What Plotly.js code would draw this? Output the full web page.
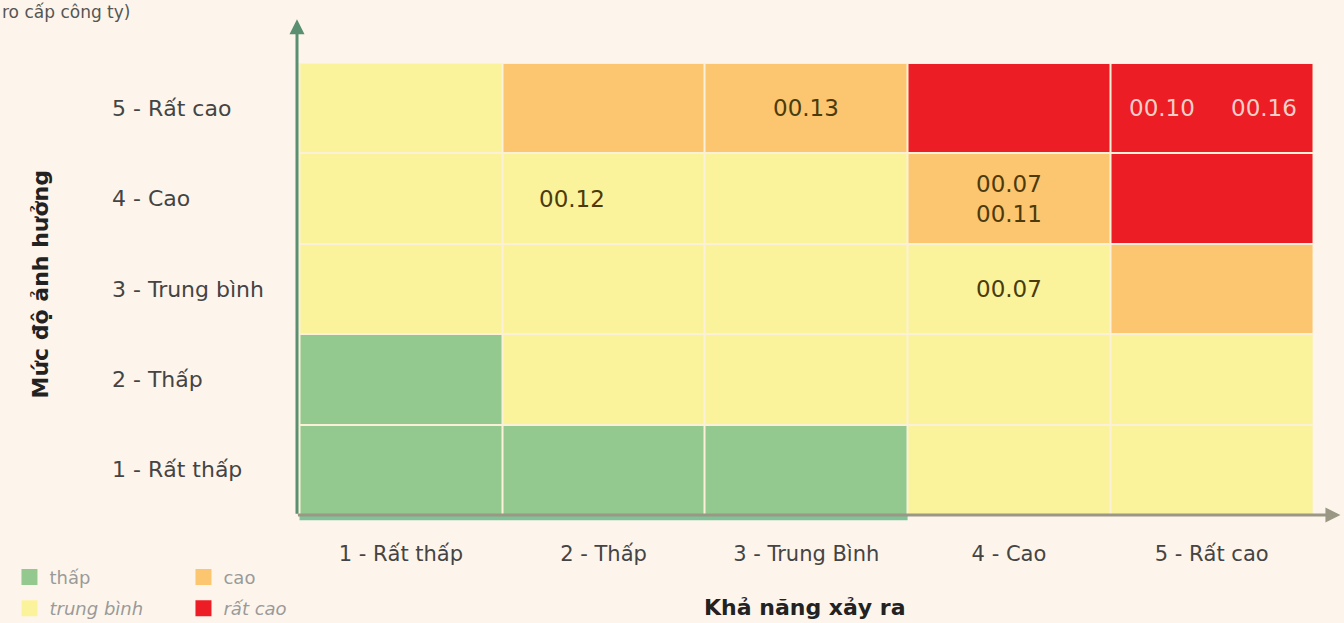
<!DOCTYPE html>
<html>
<head>
<meta charset="utf-8">
<script src="https://cdn.plot.ly/plotly-3.0.1.min.js"></script>
<style>html,body{margin:0;padding:0;background:#FDF5EB;}</style>
</head>
<body>
<div id="chart" style="width:1344px;height:623px;"></div>
<script>
// Likelihood (x) and impact (y) categories
const likelihood = ['1 - Rất thấp', '2 - Thấp', '3 - Trung Bình', '4 - Cao', '5 - Rất cao'];
const impact = ['1 - Rất thấp', '2 - Thấp', '3 - Trung bình', '4 - Cao', '5 - Rất cao'];
// Risk level per cell: 1 = thấp, 2 = trung bình, 3 = cao, 4 = rất cao (rows bottom -> top)
const riskLevel = [
  [1, 1, 1, 2, 2],
  [1, 2, 2, 2, 2],
  [2, 2, 2, 2, 3],
  [2, 2, 2, 3, 4],
  [2, 3, 3, 4, 4]
];
const levelNames = ['thấp', 'trung bình', 'cao', 'rất cao'];
const levelColors = ['#93C98F', '#FBF39C', '#FCC670', '#EC1D25'];
// Risk codes written in cells
const codeX = ['2 - Thấp', '3 - Trung Bình', '4 - Cao', '4 - Cao', '5 - Rất cao', '5 - Rất cao'];
const codeY = ['4 - Cao', '5 - Rất cao', '4 - Cao', '3 - Trung bình', '5 - Rất cao', '5 - Rất cao'];
const codeText = ['00.12', '00.13', '00.07<br>00.11', '00.07', '00.10', '00.16'];
const codeShift = [-32, 0, 0, 0, -50, 52];
const codeOnRed = [false, false, false, false, true, true];
const topNote = 'ro cấp công ty)';
const xTitle = 'Khả năng xảy ra';
const yTitle = 'Mức độ ảnh hưởng';

const FONT = 'DejaVu Sans, Verdana, sans-serif';

const n = levelColors.length;
const colorscale = [];
levelColors.forEach((c, i) => {
  colorscale.push([i / n, c]);
  colorscale.push([(i + 1) / n, c]);
});

const traces = [{
  type: 'heatmap',
  x: likelihood,
  y: impact,
  z: riskLevel,
  zmin: 0.5,
  zmax: 4.5,
  colorscale: colorscale,
  showscale: false,
  xgap: 2,
  ygap: 2,
  hoverinfo: 'skip'
}];

// legend entries: two legends so they form a 2x2 grid
const legendOrder = [[0, 2], [1, 3]];
legendOrder.forEach((row, r) => {
  row.forEach(i => {
    traces.push({
      type: 'scatter', mode: 'markers',
      x: [null], y: [null],
      name: levelNames[i],
      legend: r === 0 ? 'legend' : 'legend2',
      marker: {symbol: 'square', size: 16, color: levelColors[i]},
      showlegend: true
    });
  });
});

const annotations = [];
codeText.forEach((t, i) => {
  annotations.push({
    x: codeX[i], y: codeY[i], xref: 'x', yref: 'y',
    text: t, showarrow: false, xshift: codeShift[i],
    font: {family: FONT, size: 23, color: codeOnRed[i] ? '#F8CFC8' : '#4B3B0C'},
    align: 'center'
  });
});
// left-aligned impact labels
impact.forEach(lbl => {
  annotations.push({
    x: -0.184, xref: 'paper', xanchor: 'left',
    y: lbl, yref: 'y',
    text: lbl, showarrow: false,
    font: {family: FONT, size: 22, color: '#444444'}
  });
});
// axis arrows
annotations.push({
  x: 0, y: 1.097, xref: 'paper', yref: 'paper',
  ax: 0, ay: 496, showarrow: true,
  arrowhead: 2, arrowsize: 1, arrowwidth: 3, arrowcolor: '#5B8F72', text: ''
});
annotations.push({
  x: 1.027, y: 0, xref: 'paper', yref: 'paper',
  ax: -1044, ay: 0, showarrow: true,
  arrowhead: 2, arrowsize: 1, arrowwidth: 3, arrowcolor: '#9A9884', text: ''
});
// titles
annotations.push({
  x: 0.5, y: -0.205, xref: 'paper', yref: 'paper', xanchor: 'center', yanchor: 'middle',
  text: '<b>' + xTitle + '</b>', showarrow: false,
  font: {family: FONT, size: 22, color: '#222222'}
});
annotations.push({
  x: -0.252, y: 0.51, xref: 'paper', yref: 'paper', xanchor: 'center', yanchor: 'middle',
  text: '<b>' + yTitle + '</b>', showarrow: false, textangle: -90,
  font: {family: FONT, size: 22, color: '#222222'}
});
annotations.push({
  x: -0.292, y: 1.112, xref: 'paper', yref: 'paper', xanchor: 'left', yanchor: 'middle',
  text: topNote, showarrow: false,
  font: {family: FONT, size: 17, color: '#555555'}
});

const layout = {
  width: 1344, height: 623,
  margin: {l: 297, r: 31, t: 63, b: 108, autoexpand: false},
  paper_bgcolor: '#FDF5EB',
  plot_bgcolor: '#FBF1D8',
  font: {family: FONT, size: 17, color: '#444444'},
  xaxis: {
    type: 'category', automargin: false,
    showgrid: false, zeroline: false, showline: false,
    ticks: '', ticklabelstandoff: 24,
    tickfont: {family: FONT, size: 21, color: '#444444'},
    fixedrange: true
  },
  yaxis: {
    type: 'category', automargin: false,
    showgrid: false, zeroline: false, showline: false,
    showticklabels: false, ticks: '',
    fixedrange: true
  },
  shapes: [{
    type: 'line', xref: 'x', yref: 'paper',
    x0: -0.5, x1: 2.5, y0: -0.006, y1: -0.006,
    line: {color: '#7FC498', width: 5}
  }],
  legend: {
    orientation: 'h', x: -0.283, xanchor: 'left', y: -0.097, yanchor: 'top',
    entrywidth: 129, entrywidthmode: 'pixels',
    font: {family: FONT, size: 18, color: '#9A9A9A'},
    bgcolor: 'rgba(0,0,0,0)'
  },
  legend2: {
    orientation: 'h', x: -0.283, xanchor: 'left', y: -0.166, yanchor: 'top',
    entrywidth: 129, entrywidthmode: 'pixels',
    font: {family: FONT, size: 18, color: '#9A9A9A', style: 'italic'},
    bgcolor: 'rgba(0,0,0,0)'
  },
  annotations: annotations,
  showlegend: true
};

Plotly.newPlot('chart', traces, layout, {displayModeBar: false, staticPlot: true});
</script>
</body>
</html>
